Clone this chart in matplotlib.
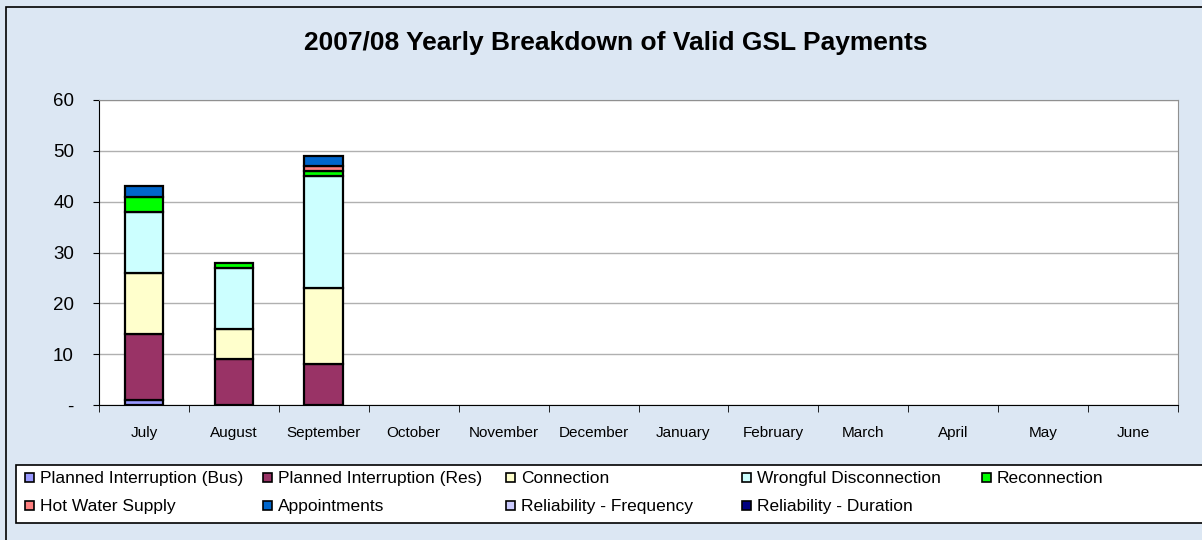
import matplotlib.pyplot as plt
import numpy as np
from matplotlib.patches import Rectangle

plt.rcParams['font.family'] = ['Liberation Sans', 'DejaVu Sans']

months = ['July', 'August', 'September', 'October', 'November', 'December',
          'January', 'February', 'March', 'April', 'May', 'June']

series = ['Planned Interruption (Bus)', 'Planned Interruption (Res)', 'Connection',
          'Wrongful Disconnection', 'Reconnection', 'Hot Water Supply',
          'Appointments', 'Reliability - Frequency', 'Reliability - Duration']

# values for July, August, September (rest of year is empty)
bus = [1, 0, 0]
res = [13, 9, 8]
connection = [12, 6, 15]
wrongful = [12, 12, 22]
reconnection = [3, 1, 1]
hot_water = [0, 0, 1]
appointments = [2, 0, 2]
rel_freq = [0, 0, 0]
rel_dur = [0, 0, 0]

colors = ['#9999FF', '#993366', '#FFFFCC', '#CCFFFF', '#00FF00',
          '#FF8080', '#0066CC', '#CCCCFF', '#000080']

data = [bus, res, connection, wrongful, reconnection, hot_water,
        appointments, rel_freq, rel_dur]

W, H = 1202, 540
bg = '#dce7f3'
fig = plt.figure(figsize=(W / 100, H / 100), dpi=100, facecolor=bg)
ax = fig.add_axes([99 / W, 1 - 405 / H, 1079 / W, 305 / H])
ax.set_facecolor('white')

x = np.arange(len(months))
bottom = np.zeros(len(months))
for name, vals, col in zip(series, data, colors):
    v = np.zeros(len(months))
    v[:len(vals)] = vals
    lw = [1.6 if val > 0 else 0 for val in v]
    ax.bar(x, v, width=0.43, bottom=bottom, color=col,
           edgecolor='black', linewidth=lw, label=name, zorder=3)
    bottom += v

ax.set_xlim(-0.5, len(months) - 0.5)
ax.set_ylim(0, 60)
ax.set_yticks(range(0, 61, 10))
ax.set_yticklabels(['-'] + [str(t) for t in range(10, 61, 10)], fontsize=13.5)
ax.yaxis.grid(True, color='#b0b0b0', linewidth=1, zorder=0)
ax.tick_params(axis='y', length=4, pad=14, color='black')

ax.set_xticks(x)
ax.set_xticklabels(months, fontsize=11)
ax.set_xticks(np.arange(-0.5, len(months)), minor=True)
ax.tick_params(axis='x', which='major', length=0, pad=15)
ax.tick_params(axis='x', which='minor', length=5, color='black')

ax.spines['top'].set_color('#909090')
ax.spines['right'].set_color('#909090')
ax.spines['left'].set_color('black')
ax.spines['bottom'].set_color('black')

fig.text(616 / W, 1 - 43 / H, '2007/08 Yearly Breakdown of Valid GSL Payments',
         ha='center', va='center', fontsize=19, fontweight='bold')

# outer chart frame
fig.patches.append(Rectangle((6 / W, -0.1), 1.2, 1 - 7 / H + 0.1,
                             transform=fig.transFigure, fill=False,
                             edgecolor='black', linewidth=1.2))
# legend frame
fig.patches.append(Rectangle((16 / W, 1 - 523 / H), 1.2, 58 / H,
                             transform=fig.transFigure, facecolor='white',
                             edgecolor='black', linewidth=1.2))

# legend entries laid out like the spreadsheet legend (two rows)
col_x = [25, 263, 506, 742, 982]
row_y = [477, 505]
for i, (name, col) in enumerate(zip(series, colors)):
    r, c = divmod(i, 5)
    mx, my = col_x[c], row_y[r]
    fig.patches.append(Rectangle((mx / W, 1 - (my + 4.5) / H), 9 / W, 9 / H,
                                 transform=fig.transFigure, facecolor=col,
                                 edgecolor='black', linewidth=1.2))
    fig.text((mx + 15) / W, 1 - my / H, name, ha='left', va='center_baseline',
             fontsize=12.5)

fig.savefig('out.png', dpi=100, facecolor=bg)
